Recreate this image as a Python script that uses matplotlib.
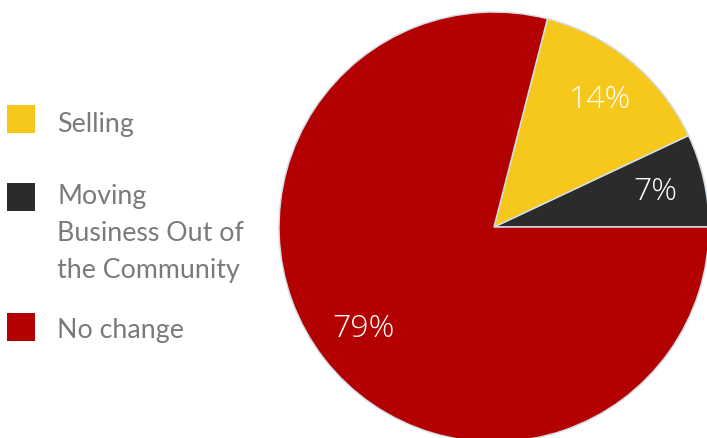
import matplotlib.pyplot as plt
from matplotlib.patches import Rectangle

# 数据
labels = ['Moving\nBusiness Out of\nthe Community', 'Selling', 'No change']
values = [7, 14, 79]
colors = ['#2b2b2b', '#f5c81b', '#b30000']

# 图例顺序（从上到下）
legend_order = [1, 0, 2]
legend_top = [106, 184, 314]
legend_baseline = [132, 278, 338]

fig = plt.figure(figsize=(7.07, 4.39), dpi=100)
ax = fig.add_axes([0, 0, 1, 1])

wedges, texts, autotexts = ax.pie(
    values, colors=colors, center=(494, 228), radius=215,
    startangle=0, counterclock=False,
    autopct=lambda p: f'{p:.0f}%', pctdistance=0.77,
    wedgeprops=dict(edgecolor='#d3dde6', linewidth=1.1),
    textprops=dict(color='white', fontsize=23, family='Open Sans', weight='light'))

ax.set_xlim(0, 707)
ax.set_ylim(439, 0)
ax.set_aspect('equal')
ax.axis('off')

# 手动画图例，多行文字以最后一行基线对齐
for i, top, base in zip(legend_order, legend_top, legend_baseline):
    ax.add_patch(Rectangle((7, top), 28, 28, facecolor=colors[i], edgecolor='none'))
    ax.text(57, base, labels[i], fontsize=19.3, family='Lato',
            weight='normal', color='#7a7a7a', va='baseline', linespacing=1.59)

fig.savefig('out.png', dpi=100)
